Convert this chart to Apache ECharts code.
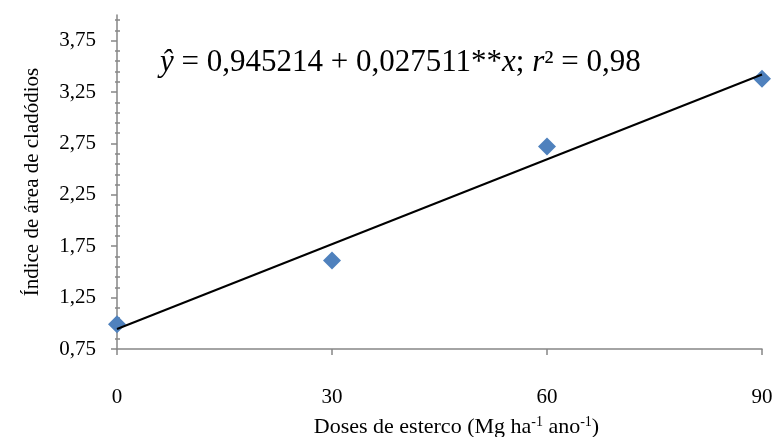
<!DOCTYPE html>
<html>
<head>
<meta charset="utf-8">
<script src="https://cdn.jsdelivr.net/npm/echarts@6/dist/echarts.min.js"></script>
<style>
html,body{margin:0;padding:0;background:#fff;}
#grafico{width:775px;height:437px;}
</style>
</head>
<body>
<div id="grafico"></div>
<script>
// dados
var doses = [0, 30, 60, 90];
var indice = [0.99, 1.61, 2.72, 3.38];
// reta ajustada (extremos)
var retaX = [0, 90];
var retaY = [0.945, 3.421];
var xTicks = [0, 30, 60, 90];
var yTicks = [0.75, 1.25, 1.75, 2.25, 2.75, 3.25, 3.75];

var fonte = "'Liberation Serif', 'Times New Roman', serif";
var cinza = '#868686';

// ticks secundarios de 0,1 em 0,1
var yMinor = [];
yTicks.forEach(function (v) {
  for (var k = 1; k <= 4; k++) {
    var m = Math.round((v + k * 0.1) * 100) / 100;
    if (m < 4) yMinor.push(m);
  }
});

var mycharts = echarts.init(document.getElementById('grafico'));

var eixoY = function (extra) {
  var base = {
    type: 'value',
    min: 0.75,
    max: 4,
    position: 'left',
    splitLine: { show: false },
    axisLine: { show: false },
    axisLabel: { show: false },
    axisTick: { show: false }
  };
  return Object.assign(base, extra);
};

var options = {
  animation: false,
  title: {
    left: 155,
    top: 42,
    text: '{i|ŷ} = 0,945214 + 0,027511**{i|x}; {i|r}² = 0,98',
    textStyle: {
      fontFamily: fonte,
      fontSize: 31,
      fontWeight: 'normal',
      color: '#000',
      rich: {
        i: { fontFamily: fonte, fontSize: 31, fontStyle: 'italic', color: '#000' }
      }
    }
  },
  grid: {
    left: 117,
    right: 13,
    top: 15,
    bottom: 88,
    outerBoundsMode: 'none',
    containLabel: false
  },
  xAxis: {
    type: 'value',
    min: 0,
    max: 90,
    interval: 30,
    name: 'Doses de esterco (Mg ha{sup|-1} ano{sup|-1})',
    nameLocation: 'middle',
    nameGap: 66,
    nameTextStyle: {
      fontFamily: fonte,
      fontSize: 22,
      color: '#000',
      padding: [0, 0, 0, 34],
      rich: {
        sup: { fontFamily: fonte, fontSize: 14, color: '#000', padding: [0, 0, 10, 0] }
      }
    },
    axisLine: { lineStyle: { color: cinza, width: 1.5 } },
    axisTick: { length: 6, lineStyle: { color: cinza, width: 1.5 } },
    axisLabel: {
      margin: 38,
      fontFamily: fonte,
      fontSize: 21,
      color: '#000',
      customValues: xTicks
    },
    splitLine: { show: false }
  },
  yAxis: [
    eixoY({
      name: 'Índice de área de cladódios',
      nameLocation: 'middle',
      nameGap: 74,
      nameTextStyle: { fontFamily: fonte, fontSize: 21, color: '#000' },
      axisLine: { show: true, lineStyle: { color: cinza, width: 1.5 } },
      axisTick: { show: true, length: 6, customValues: yTicks, lineStyle: { color: cinza, width: 1.5 } },
      axisLabel: {
        show: true,
        margin: 21,
        fontFamily: fonte,
        fontSize: 21,
        color: '#000',
        customValues: yTicks,
        formatter: function (v) { return v.toFixed(2).replace('.', ','); }
      }
    }),
    eixoY({
      axisTick: { show: true, length: 2, customValues: yMinor, lineStyle: { color: cinza, width: 1.5 } }
    }),
    eixoY({
      axisTick: { show: true, inside: true, length: 3, customValues: yMinor, lineStyle: { color: cinza, width: 1.5 } }
    })
  ],
  series: [
    {
      name: 'Reta',
      type: 'line',
      data: retaX.map(function (x, i) { return [x, retaY[i]]; }),
      showSymbol: false,
      lineStyle: { color: '#000', width: 2 },
      z: 2
    },
    {
      name: 'Índice',
      type: 'scatter',
      data: doses.map(function (x, i) { return [x, indice[i]]; }),
      symbol: 'diamond',
      symbolSize: [18, 18],
      itemStyle: { color: '#4F81BD', opacity: 1 },
      z: 1
    }
  ]
};
mycharts.setOption(options, true);
window.addEventListener('resize', () => mycharts.resize());
</script>
</body>
</html>
